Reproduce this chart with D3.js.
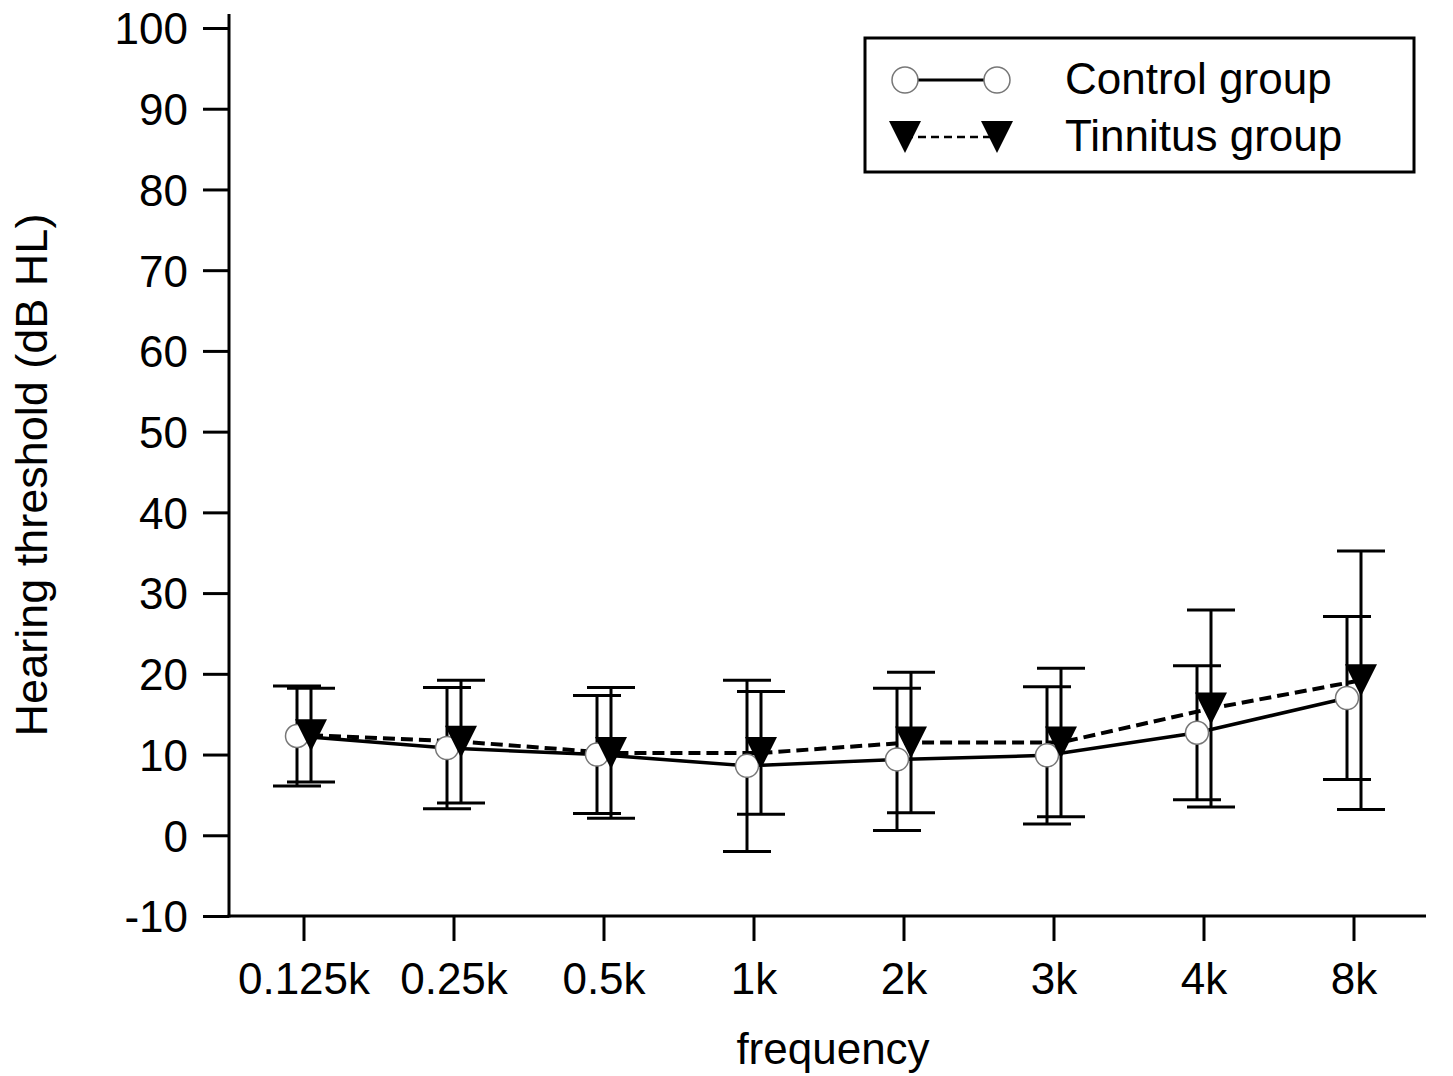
<!DOCTYPE html>
<html>
<head>
<meta charset="utf-8">
<script src="https://cdn.jsdelivr.net/npm/d3@7"></script>
<style>
  body { margin: 0; background: #fff; }
  text { font-family: "Liberation Sans", Arial, sans-serif; fill: #000; }
</style>
</head>
<body>
<script>
// Chart data
const frequencies = ["0.125k", "0.25k", "0.5k", "1k", "2k", "3k", "4k", "8k"];
const controlMean = [12.3, 10.8, 10.0, 8.6, 9.4, 9.9, 12.7, 17.0];
const controlSD   = [6.2, 7.5, 7.3, 10.6, 8.8, 8.5, 8.3, 10.1];
const tinnitusMean = [12.4, 11.6, 10.2, 10.2, 11.5, 11.5, 15.7, 19.2];
const tinnitusSD   = [5.8, 7.6, 8.1, 7.6, 8.7, 9.2, 12.2, 16.0];
const yTicks = [-10, 0, 10, 20, 30, 40, 50, 60, 70, 80, 90, 100];

const W = 1453, H = 1076;
const svg = d3.select("body").append("svg")
  .attr("width", W)
  .attr("height", H);

const x = d3.scaleBand()
  .domain(frequencies)
  .range([229, 1429])
  .padding(0);

const y = d3.scaleLinear()
  .domain([-10, 100])
  .range([916, 28]);

const fs = 44;
const offset = 7; // horizontal shift between the two groups

// Axes
const yAxis = svg.append("g")
  .attr("transform", "translate(229,0)")
  .call(d3.axisLeft(y).tickValues(yTicks).tickFormat(d => String(d))
    .tickSize(26).tickPadding(15).tickSizeOuter(0));
yAxis.select(".domain").remove();
yAxis.selectAll("line").attr("stroke-width", 3);
yAxis.selectAll("text").style("font-size", fs + "px").attr("dy", "0.36em");

const xAxis = svg.append("g")
  .attr("transform", "translate(0,916)")
  .call(d3.axisBottom(x).tickSize(25).tickPadding(22).tickSizeOuter(0));
xAxis.select(".domain").remove();
xAxis.selectAll("line").attr("stroke-width", 3);
xAxis.selectAll("text").style("font-size", fs + "px");

// axis lines
svg.append("line").attr("x1", 229).attr("x2", 229).attr("y1", 14).attr("y2", 917.5)
  .attr("stroke", "#000").attr("stroke-width", 3);
svg.append("line").attr("x1", 227.5).attr("x2", 1426).attr("y1", 916).attr("y2", 916)
  .attr("stroke", "#000").attr("stroke-width", 3);

// Axis titles
svg.append("text")
  .attr("transform", "translate(47,475) rotate(-90)")
  .attr("text-anchor", "middle")
  .style("font-size", "45px")
  .text("Hearing threshold (dB HL)");

svg.append("text")
  .attr("x", 833)
  .attr("y", 1064)
  .attr("text-anchor", "middle")
  .style("font-size", fs + "px")
  .text("frequency");

const cx = (f, dx) => x(f) + x.bandwidth() / 2 + dx;

const control = frequencies.map((f, i) => ({ f, m: controlMean[i], sd: controlSD[i] }));
const tinnitus = frequencies.map((f, i) => ({ f, m: tinnitusMean[i], sd: tinnitusSD[i] }));

// Lines
svg.append("path")
  .datum(control)
  .attr("fill", "none")
  .attr("stroke", "#000")
  .attr("stroke-width", 3.5)
  .attr("d", d3.line().x(d => cx(d.f, -offset)).y(d => y(d.m)));

svg.append("path")
  .datum(tinnitus)
  .attr("fill", "none")
  .attr("stroke", "#000")
  .attr("stroke-width", 4)
  .attr("stroke-dasharray", "12,6")
  .attr("d", d3.line().x(d => cx(d.f, offset)).y(d => y(d.m)));

// Error bars
function errorBars(data, dx) {
  const g = svg.append("g").attr("stroke", "#000").attr("stroke-width", 3);
  data.forEach(d => {
    const px = cx(d.f, dx);
    g.append("line").attr("x1", px).attr("x2", px)
      .attr("y1", y(d.m + d.sd)).attr("y2", y(d.m - d.sd));
    [d.m + d.sd, d.m - d.sd].forEach(v => {
      g.append("line").attr("x1", px - 24).attr("x2", px + 24)
        .attr("y1", y(v)).attr("y2", y(v));
    });
  });
}
errorBars(control, -offset);
errorBars(tinnitus, offset);

// Markers
const triPath = (px, py, s) =>
  `M${px - s},${py - s} L${px + s},${py - s} L${px},${py + s} Z`;

svg.selectAll(".ctl")
  .data(control)
  .enter()
  .append("circle")
  .attr("cx", d => cx(d.f, -offset))
  .attr("cy", d => y(d.m))
  .attr("r", 11.5)
  .attr("fill", "#fff")
  .attr("stroke", "#777")
  .attr("stroke-width", 1.5);

svg.selectAll(".tin")
  .data(tinnitus)
  .enter()
  .append("path")
  .attr("d", d => triPath(cx(d.f, offset), y(d.m), 16))
  .attr("fill", "#000");

// Legend
svg.append("rect")
  .attr("x", 865).attr("y", 38)
  .attr("width", 549).attr("height", 134)
  .attr("fill", "none")
  .attr("stroke", "#000")
  .attr("stroke-width", 3);

svg.append("line").attr("x1", 905).attr("x2", 997).attr("y1", 80).attr("y2", 80)
  .attr("stroke", "#000").attr("stroke-width", 3);
[905, 997].forEach(px => {
  svg.append("circle").attr("cx", px).attr("cy", 80).attr("r", 13)
    .attr("fill", "#fff").attr("stroke", "#777").attr("stroke-width", 1.5);
});
svg.append("line").attr("x1", 905).attr("x2", 997).attr("y1", 137).attr("y2", 137)
  .attr("stroke", "#000").attr("stroke-width", 2.5).attr("stroke-dasharray", "8,5");
[905, 997].forEach(px => {
  svg.append("path").attr("d", triPath(px, 137, 16)).attr("fill", "#000");
});

svg.append("text").attr("x", 1065).attr("y", 94)
  .style("font-size", fs + "px").text("Control group");
svg.append("text").attr("x", 1065).attr("y", 151)
  .style("font-size", fs + "px").text("Tinnitus group");
</script>
</body>
</html>
